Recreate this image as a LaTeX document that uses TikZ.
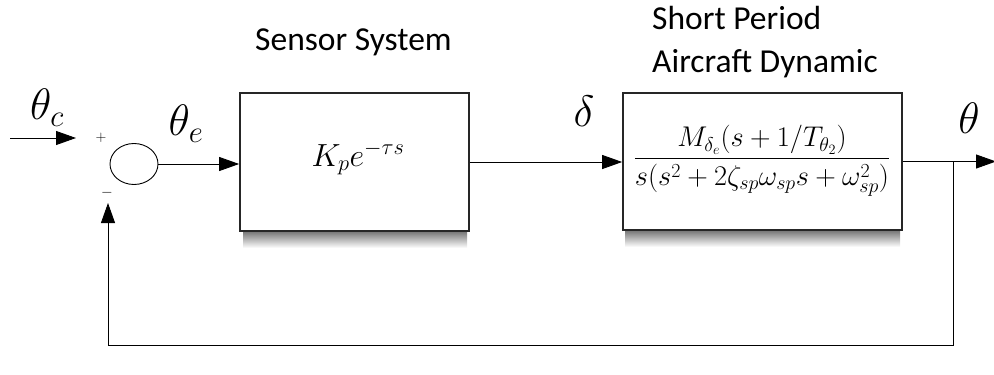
\RequirePackage{fix-cm}
\documentclass[tikz,border=0pt]{standalone}
\usepackage{amsmath}
\usepackage{fontspec}
\newfontfamily\titlefont{Carlito}
\usetikzlibrary{arrows.meta,shapes.geometric}
\tikzset{
  blk/.style={draw=black!85, line width=1.7pt, fill=white, rectangle, inner sep=0pt},
  sumnode/.style={draw, ellipse, line width=0.9pt, minimum width=48pt, minimum height=41pt, inner sep=0pt},
  sig/.style={line width=0.9pt},
  arr/.style={sig, -{Triangle[length=20pt,width=14pt]}},
  biglbl/.style={font=\fontsize{44}{50}\selectfont, inner sep=0pt},
  title/.style={font=\titlefont\fontsize{33.5}{40}\selectfont, inner sep=0pt, anchor=base west},
  sgn/.style={font=\fontsize{15}{17}\selectfont, inner sep=0pt}
}
\begin{document}
\begin{tikzpicture}[x=1pt,y=-1pt]
\useasboundingbox (0,0) rectangle (994,375);
% shadows
\shade[top color=black!55, bottom color=white] (243,231) rectangle (467,248);
\shade[top color=black!55, bottom color=white] (625,230) rectangle (900,247);
% blocks
\node[blk, minimum width=229pt, minimum height=138pt] (b1) at (354.5,162) {};
\node[font=\fontsize{32}{36}\selectfont, inner sep=0pt, anchor=base] (g1) at (358,166) {$K_pe^{-\tau s}$};
\node[blk, minimum width=279pt, minimum height=137pt] (b2) at (762.5,161.5) {};
\node[font=\fontsize{28.5}{32}\selectfont, inner sep=0pt] (g2) at (762,161) {$\dfrac{M_{\delta_e}(s+1/T_{\theta_2})}{s(s^2+2\zeta_{sp}\omega_{sp}s+\omega_{sp}^2)}$};
% sum
\node[sumnode] (sum) at (134,164) {};
\node[sgn] (plus) at (101,138) {+};
\node[sgn] (minus) at (107,193) {$-$};
% titles
\node[title] (t1) at (255,50) {Sensor System};
\node[title] (t2) at (652,29) {Short Period};
\node[title] (t3) at (652,72) {Aircraft Dynamic};
% labels
\node[biglbl] (lc) at (47,108) {$\theta_c$};
\node[biglbl] (le) at (186,124) {$\theta_e$};
\node[biglbl] (ld) at (584,111) {$\delta$};
\node[biglbl] (lt) at (969,118) {$\theta$};
% connectors
\coordinate (in0) at (10,138);
\coordinate (in1) at (76,138);
\draw[arr] (in0) -- (in1);
\draw[arr] (sum.east) -- (sum.east -| b1.west);
\draw[arr] (b1.east) -- (b1.east -| b2.west);
\coordinate (out) at (996,161.5);
\coordinate (j) at (953,161.5);
\coordinate (fb) at (108,203);
\coordinate (bl) at (108,345);
\draw[arr] (b2.east) -- (out);
\draw[arr] (j) |- (bl) -- (fb);
\end{tikzpicture}
\end{document}
